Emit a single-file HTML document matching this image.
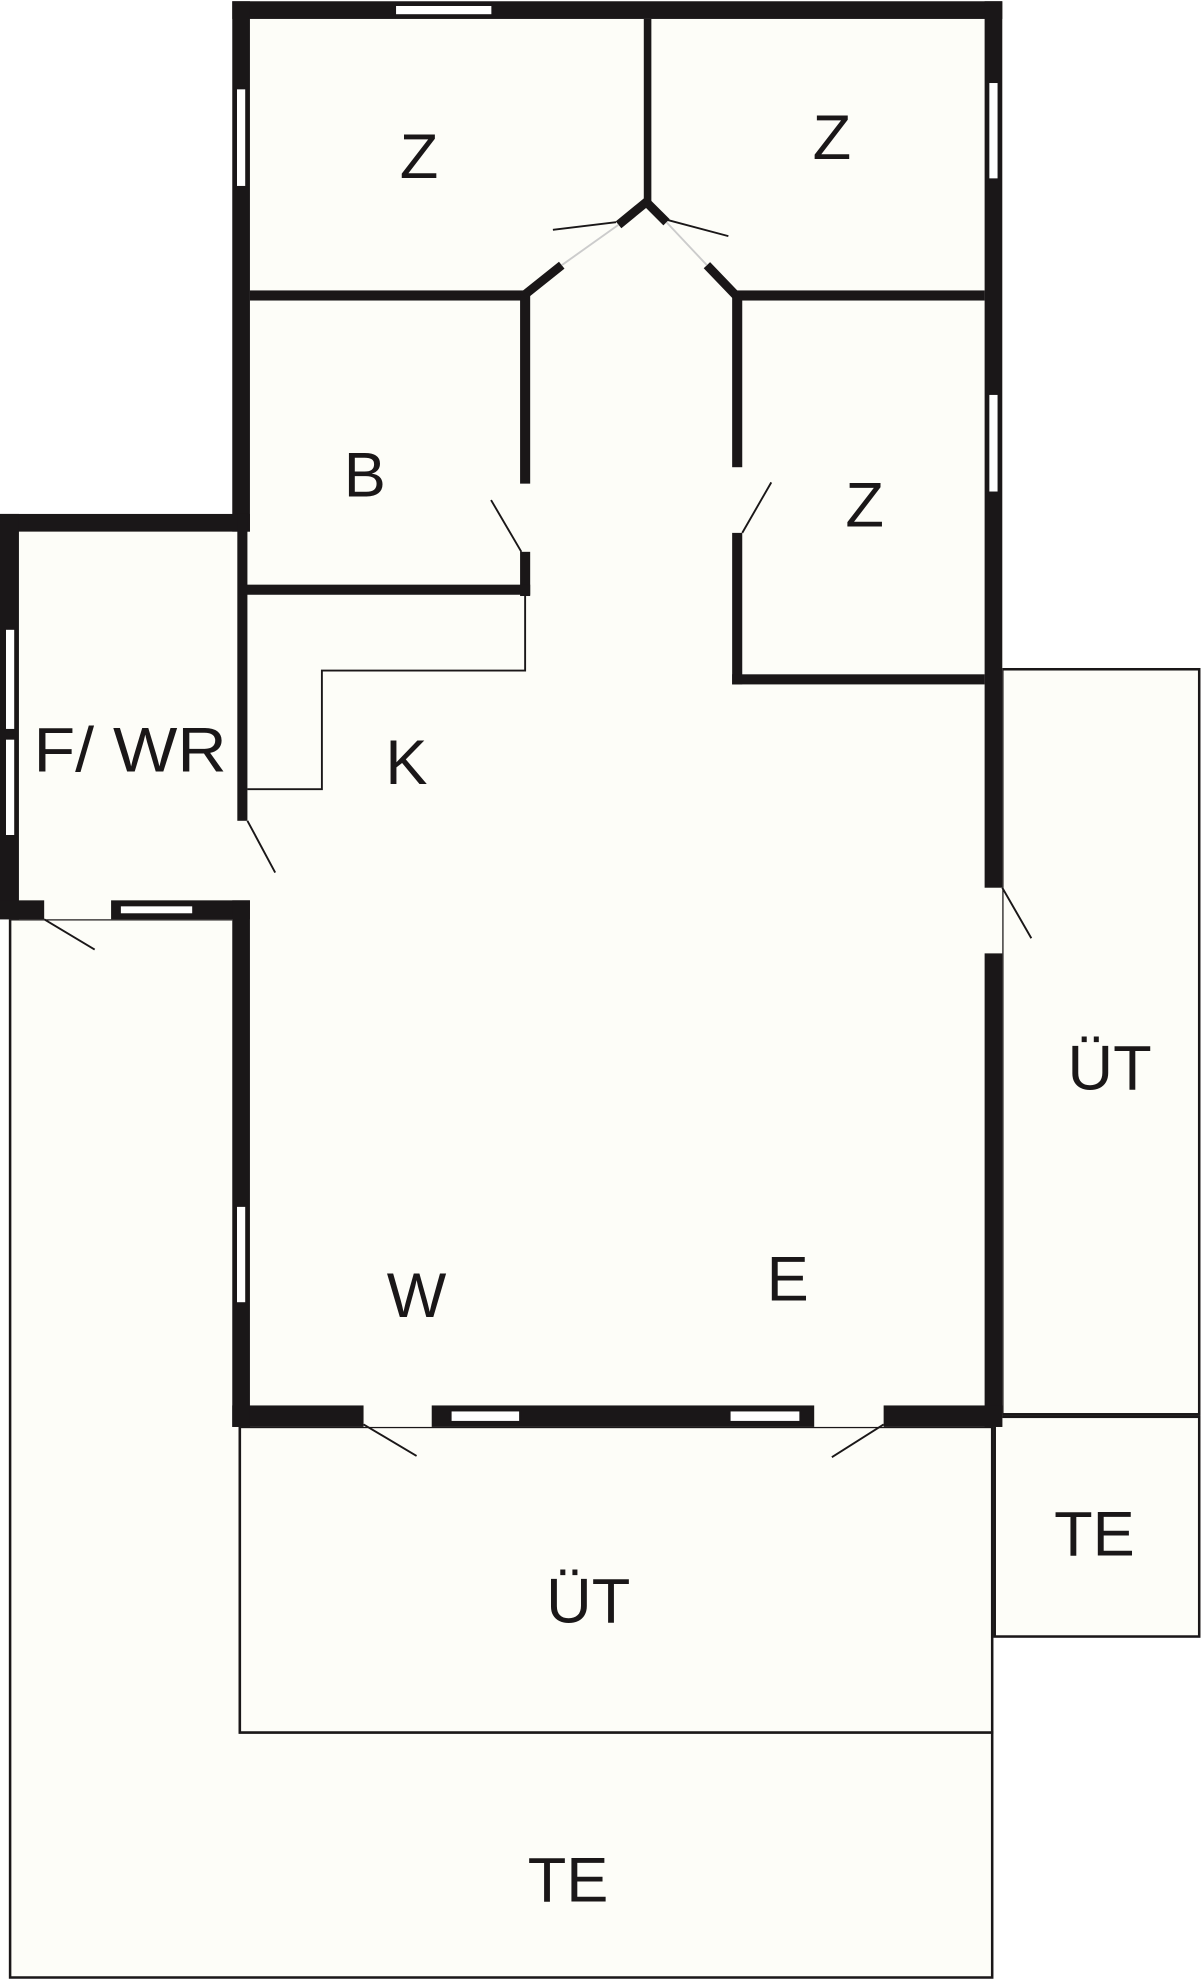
<!DOCTYPE html>
<html><head><meta charset="utf-8"><style>html,body{margin:0;padding:0;background:#fff}svg{display:block}</style></head>
<body>
<svg width="1203" height="1980" viewBox="0 0 953 1568" preserveAspectRatio="none" xmlns="http://www.w3.org/2000/svg" font-family="Liberation Sans, sans-serif">
<g fill="#fdfdf8" stroke="#1a1718" stroke-width="2">
<path d="M8 728 H190 V1372 H786 V1566 H8 Z"/>
<rect x="190" y="1130" width="596" height="242"/>
<rect x="788" y="1122" width="162" height="174"/>
<rect x="794" y="530" width="156" height="590"/>
</g>
<rect x="0" y="407" width="198" height="321" fill="#fdfdf8"/>
<rect x="184" y="1" width="610" height="1129" fill="#fdfdf8"/>
<g fill="#1a1718">
<rect x="184" y="1" width="610" height="14"/>
<rect x="184" y="1" width="14" height="420"/>
<rect x="780" y="1" width="14" height="702"/>
<rect x="780" y="755" width="14" height="375"/>
<rect x="184" y="1113" width="104" height="17"/>
<rect x="342" y="1113" width="303" height="17"/>
<rect x="700" y="1113" width="94" height="17"/>
<rect x="0" y="407" width="198" height="14"/>
<rect x="0" y="407" width="15" height="321"/>
<rect x="0" y="713" width="35" height="15"/>
<rect x="88" y="713" width="110" height="15"/>
<rect x="188" y="407" width="8" height="243"/>
<rect x="184" y="713" width="14" height="417"/>
<rect x="510" y="15" width="6" height="145"/>
<rect x="198" y="230" width="217" height="8"/>
<rect x="583" y="230" width="197" height="8"/>
<rect x="412" y="233" width="8" height="150"/>
<rect x="412" y="437" width="8" height="35"/>
<rect x="190" y="463" width="230" height="8"/>
<rect x="580" y="233" width="8" height="137"/>
<rect x="580" y="422" width="8" height="120"/>
<rect x="580" y="534" width="200" height="8"/>
</g>
<g stroke="#1a1718" fill="none">
<path d="M415 234 L445 210 M490 178 L512 160 L528 176 M560 210 L583 234" stroke-width="7"/>
<g stroke-width="1.5">
<path d="M445 210 L490 178 M528 176 L560 210" stroke="#ccc"/>
<path d="M438 182 L488 176 M528 174 L577 187"/>
<path d="M389 396 L413 437 M611 382 L588 422"/>
<path d="M196 650 L218 691 M794 703 L817 743"/>
<path d="M35 728 L75 752 M288 1128 L330 1153 M700 1128 L659 1154"/>
<path d="M196 625 H255 V531 H416 V472"/>
</g>
</g>
<g fill="#fff" stroke="#1a1718" stroke-width="1.5">
<rect x="313" y="4" width="77" height="8"/>
<rect x="187" y="70" width="8" height="78"/>
<rect x="783" y="65" width="8" height="77"/>
<rect x="783" y="312" width="8" height="78"/>
<rect x="4" y="498" width="8" height="80"/>
<rect x="4" y="585" width="8" height="77"/>
<rect x="95" y="717" width="58" height="7"/>
<rect x="187" y="955" width="8" height="77"/>
<rect x="357" y="1117" width="55" height="9"/>
<rect x="578" y="1117" width="56" height="9"/>
</g>
<g fill="#1a1718" font-size="50" text-anchor="middle">
<text x="332" y="141">Z</text>
<text x="659" y="126">Z</text>
<text x="289" y="393">B</text>
<text x="685" y="417">Z</text>
<text x="103" y="611" textLength="153" lengthAdjust="spacingAndGlyphs">F/ WR</text>
<text x="322" y="621">K</text>
<text x="879" y="863">ÜT</text>
<text x="330" y="1043">W</text>
<text x="624" y="1030">E</text>
<text x="867" y="1232">TE</text>
<text x="466" y="1285">ÜT</text>
<text x="450" y="1506">TE</text>
</g>
</svg>
</body></html>
